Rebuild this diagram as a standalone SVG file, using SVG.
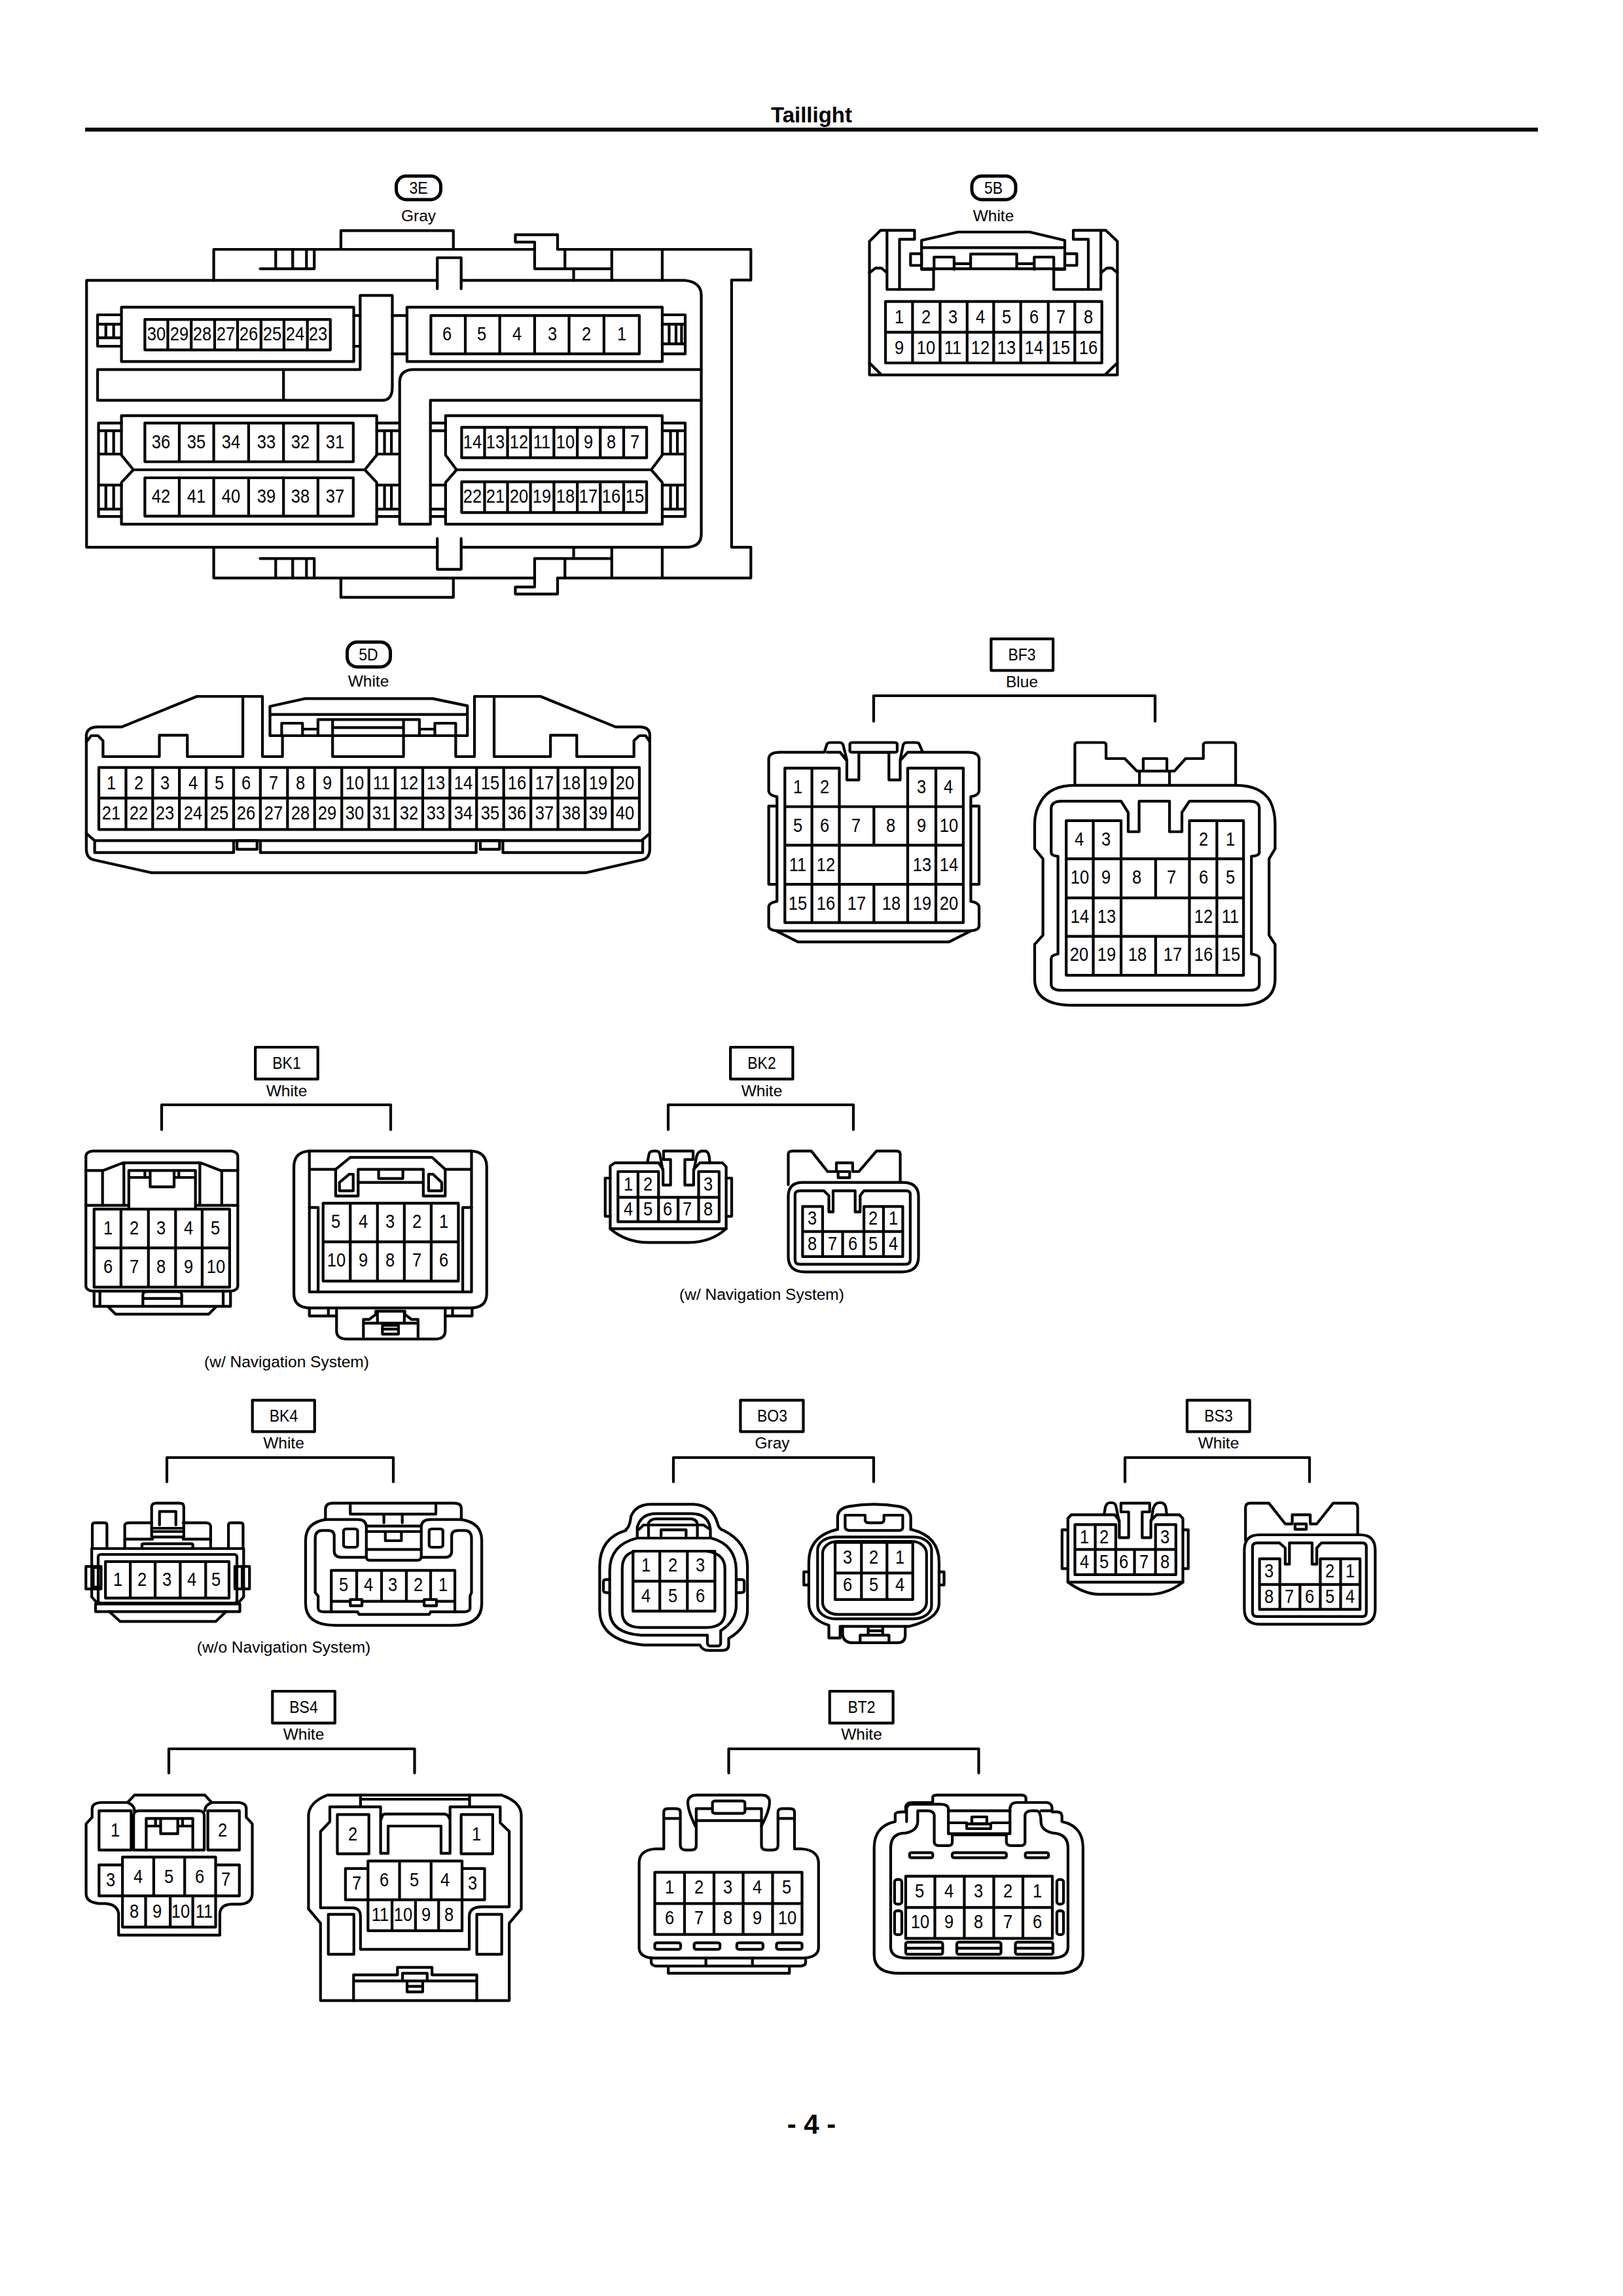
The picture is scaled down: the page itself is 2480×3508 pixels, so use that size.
<svg xmlns="http://www.w3.org/2000/svg" width="2480" height="3508" viewBox="0 0 2480 3508">
<style>
path,rect{fill:none;stroke:#000;stroke-width:4.2;stroke-linejoin:round;stroke-linecap:round;vector-effect:non-scaling-stroke}
.w{fill:#fff}
.p{stroke-width:5}
text{font-family:"Liberation Sans",Arial,sans-serif;font-size:30px;text-anchor:middle;fill:#000;transform-box:fill-box;transform-origin:center;transform:scaleX(.85)}
.l{font-size:24.5px;transform:none}
.t{font-size:25px;transform:scaleX(.92)}
.h{font-size:33px;font-weight:bold;transform:none}
.f{font-size:42px;font-weight:bold;transform:none}
</style>
<rect width="2480" height="3508" style="fill:#fff;stroke:none"/>
<g id="header">
<text class="h" x="1240" y="187">Taillight</text>
<path d="M130,198H2350" style="stroke-width:6;stroke-linecap:butt"/>
</g>
<g id="footer"><text class="f" x="1240" y="3260">- 4 -</text></g>

<g id="connectors">
<path d="M1335,1102V1063H1765V1102"/>
<path d="M247,1726V1688H597V1726"/>
<path d="M1021,1726V1688H1304V1726"/>
<path d="M255,2264V2227H601V2264"/>
<path d="M1029,2264V2227H1335V2264"/>
<path d="M1719,2264V2227H2001V2264"/>
<path d="M258,2709V2672H633.5V2709"/>
<path d="M1113.5,2709V2672H1495.5V2709"/>
</g>

<g id="node-3E">
<rect class="p" x="605.5" y="269" width="68" height="36" rx="15"/>
<g transform="translate(100,130) scale(.7015,.5102)">
<rect x="600" y="436" width="245" height="56"/>
<path d="M323,585V492H1022M1072,492H1493V584H1451V1384H1493V1476H1072M1022,1476H323V1384"/>
<path d="M1022,492V470H980V448H1072V492M1022,470V550H1188M1088,492V550M1190,492V585M1300,492V585M1107,550V585"/>
<path d="M424,550H542V495M458,492V550M495,492V550M525,492V550"/>
<path d="M46,585H1350Q1385,590 1385,630V1345Q1385,1384 1350,1384H46Z"/>
<path class="w" d="M810,610V517H862V610"/>
<path class="w" d="M810,1358V1450H862V1358"/>
<rect x="600" y="1476" width="245" height="58"/>
<path d="M1022,1476V1503H980V1524H1072V1476M1022,1503V1418H1188M1088,1418V1476M1190,1384V1476M1300,1384V1476M1107,1384V1418"/>
<path d="M424,1418H542V1476M458,1418V1476M495,1418V1476M525,1418V1476"/>
<rect x="122" y="665" width="506" height="163"/>
<path d="M173,702H577V793H173ZM223,702V793M274,702V793M325,702V793M375,702V793M426,702V793M476,702V793M527,702V793"/>
<path d="M120,688H70V782H120M70,716H120M70,757H120M88,716V757M105,716V757M628,690H642M628,782H642"/>
<path d="M642,852V630H712V905Q712,944 690,944H70V852H642M475,852V944"/>
<rect x="744" y="665" width="556" height="163"/>
<path d="M796,690H1250V805H796ZM871,690V805M946,690V805M1022,690V805M1097,690V805M1173,690V805"/>
<path d="M712,690H744M712,805H744M1300,688H1350V805H1300M1300,716H1350M1300,775H1350M1315,716V775M1330,716V775M1342,716V775"/>
<path d="M1385,852H755Q728,855 728,890V1315H795V944H1385"/>
<path d="M122,990H678V1108L652,1152L678,1190V1315H122V1190L148,1152L122,1108ZM148,1152H652"/>
<path d="M173,1012H627V1128H173ZM248,1012V1128M323,1012V1128M399,1012V1128M475,1012V1128M550,1012V1128"/>
<path d="M173,1176H627V1291H173ZM248,1176V1291M323,1176V1291M399,1176V1291M475,1176V1291M550,1176V1291"/>
<path d="M122,1012H72V1292H122M72,1035H122M72,1105H122M72,1198H122M72,1270H122M88,1035V1105M105,1035V1105M88,1198V1270M105,1198V1270"/>
<path d="M678,1012H724M678,1035H724M678,1105H724M678,1198H724M678,1270H724M678,1292H724M695,1035V1105M710,1035V1105M695,1198V1270M710,1198V1270"/>
<path d="M828,990H1300V1108L1276,1152L1300,1190V1315H828V1190L852,1152L828,1108ZM852,1152H1276"/>
<path d="M863,1025H1266V1116H863ZM913,1025V1116M963,1025V1116M1013,1025V1116M1064,1025V1116M1115,1025V1116M1165,1025V1116M1216,1025V1116"/>
<path d="M863,1188H1266V1280H863ZM913,1188V1280M963,1188V1280M1013,1188V1280M1064,1188V1280M1115,1188V1280M1165,1188V1280M1216,1188V1280"/>
<path d="M795,1012H828M795,1035H828M795,1198H828M795,1270H828M795,1292H828M1300,1012H1350V1292H1300M1300,1035H1350M1300,1105H1350M1300,1198H1350M1300,1270H1350M1318,1035V1105M1333,1035V1105M1318,1198V1270M1333,1198V1270"/>
</g>
<text class="t" x="639.5" y="296">3E</text>
<text class="l" x="639.5" y="338">Gray</text>
<text x="239" y="520">30</text><text x="274" y="520">29</text><text x="309" y="520">28</text><text x="345" y="520">27</text><text x="380" y="520">26</text><text x="416" y="520">25</text><text x="451" y="520">24</text><text x="486" y="520">23</text>
<text x="683" y="520">6</text><text x="736" y="520">5</text><text x="790" y="520">4</text><text x="844" y="520">3</text><text x="896" y="520">2</text><text x="950" y="520">1</text>
<text x="246" y="685">36</text><text x="300" y="685">35</text><text x="353" y="685">34</text><text x="407" y="685">33</text><text x="459" y="685">32</text><text x="512" y="685">31</text>
<text x="246" y="768">42</text><text x="300" y="768">41</text><text x="353" y="768">40</text><text x="407" y="768">39</text><text x="459" y="768">38</text><text x="512" y="768">37</text>
<text x="722" y="685">14</text><text x="757" y="685">13</text><text x="793" y="685">12</text><text x="828" y="685">11</text><text x="864" y="685">10</text><text x="899" y="685">9</text><text x="934" y="685">8</text><text x="970" y="685">7</text>
<text x="722" y="768">22</text><text x="757" y="768">21</text><text x="793" y="768">20</text><text x="828" y="768">19</text><text x="864" y="768">18</text><text x="899" y="768">17</text><text x="934" y="768">16</text><text x="970" y="768">15</text>
</g>

<g id="node-5B">
<rect class="p" x="1485" y="269" width="67" height="36" rx="15"/>
<g transform="translate(1200,130) scale(.7653,.5102)">
<path d="M168,868V468L190,435H258V462H228V612H296V552H272V465L345,440H488L558,465V552H536V612H605V462H575V435H640L663,468V868Z"/>
<path d="M203,440V612H228M630,440V612H605M168,562L180,548H192L203,562M630,562L642,548H652L663,562"/>
<path d="M272,487H558M272,550H558"/>
<rect x="250" y="505" width="22" height="35"/><rect x="558" y="505" width="24" height="35"/>
<path d="M297,552V515H337V552M370,548V506H462V548M497,552V515H536V552M337,535H370M462,535H497"/>
<path d="M200,648H632V832H200ZM200,740H632M254,648V832M309,648V832M363,648V832M416,648V832M470,648V832M525,648V832M578,648V832"/>
<path d="M168,832L190,865M663,832L640,865"/>
</g>
<text class="t" x="1518" y="296">5B</text>
<text class="l" x="1518" y="338">White</text>
<text x="1374" y="494">1</text><text x="1415" y="494">2</text><text x="1456" y="494">3</text><text x="1498" y="494">4</text><text x="1538" y="494">5</text><text x="1580" y="494">6</text><text x="1621" y="494">7</text><text x="1663" y="494">8</text>
<text x="1374" y="541">9</text><text x="1415" y="541">10</text><text x="1456" y="541">11</text><text x="1498" y="541">12</text><text x="1538" y="541">13</text><text x="1580" y="541">14</text><text x="1621" y="541">15</text><text x="1663" y="541">16</text>
</g>

<g id="node-5D">
<rect class="p" x="530.5" y="981" width="66" height="38" rx="15"/>
<g transform="translate(100,950) scale(.6378,.3333)">
<path d="M520,522V618H472V342H315L135,482H78Q52,482 50,520V1040Q50,1085 70,1092L205,1150H1248L1380,1092Q1400,1085 1400,1040V520Q1400,482 1375,482H1318L1138,342H980V618H935V522"/>
<path d="M50,550L62,522H78L90,545V618H225V520H292V618H425V345M1400,550L1390,522H1375L1362,545V618H1225V520H1162V618H1027V345"/>
<path d="M490,388L575,352H880L963,385V522H490ZM490,425H963M605,520V448H848V520M518,520V465H568V520M885,520V465H935V520M568,492H605M848,492H885M640,448V618H810V448M640,485H810"/>
<path d="M80,668H1375V952H80ZM80,808H1375M145,668V952M209,668V952M273,668V952M337,668V952M403,668V952M467,668V952M532,668V952M597,668V952M662,668V952M727,668V952M790,668V952M856,668V952M921,668V952M985,668V952M1050,668V952M1115,668V952M1180,668V952M1245,668V952M1310,668V952"/>
<path d="M50,970L70,1003H1380L1400,970M70,1003V1058H403V1003M467,1003V1058H984V1003M1048,1003V1058H1383V1003"/>
<rect x="411" y="1003" width="48" height="40"/><rect x="994" y="1003" width="46" height="40"/>
</g>
<text class="t" x="563" y="1009">5D</text>
<text class="l" x="563" y="1049">White</text>
<text x="170" y="1206">1</text><text x="212" y="1206">2</text><text x="252" y="1206">3</text><text x="295" y="1206">4</text><text x="335" y="1206">5</text><text x="376" y="1206">6</text><text x="418" y="1206">7</text><text x="459" y="1206">8</text><text x="500" y="1206">9</text><text x="542" y="1206">10</text><text x="583" y="1206">11</text><text x="625" y="1206">12</text><text x="666" y="1206">13</text><text x="708" y="1206">14</text><text x="749" y="1206">15</text><text x="790" y="1206">16</text><text x="832" y="1206">17</text><text x="873" y="1206">18</text><text x="914" y="1206">19</text><text x="955" y="1206">20</text>
<text x="170" y="1252">21</text><text x="212" y="1252">22</text><text x="252" y="1252">23</text><text x="295" y="1252">24</text><text x="335" y="1252">25</text><text x="376" y="1252">26</text><text x="418" y="1252">27</text><text x="459" y="1252">28</text><text x="500" y="1252">29</text><text x="542" y="1252">30</text><text x="583" y="1252">31</text><text x="625" y="1252">32</text><text x="666" y="1252">33</text><text x="708" y="1252">34</text><text x="749" y="1252">35</text><text x="790" y="1252">36</text><text x="832" y="1252">37</text><text x="873" y="1252">38</text><text x="914" y="1252">39</text><text x="955" y="1252">40</text>
</g>

<g id="node-BF3">
<g transform="translate(1100,960) scale(.574,.3827)">
<rect x="722" y="42" width="165" height="126"/>
<path d="M278,495H160Q132,495 130,520V650Q132,668 152,672V1090Q132,1095 130,1110V1190Q132,1208 160,1208H660Q688,1208 690,1190V1110Q688,1095 668,1090V672Q688,668 690,650V520Q688,495 660,495H540L530,460Q528,456 520,456H498Q490,456 488,465L480,525V605H450V495H370V605H338V525L328,465Q326,456 318,456H295Q288,456 285,462Z"/>
<rect class="w" x="346" y="456" width="126" height="39" rx="6"/>
<path d="M285,495H320L336,525M538,495H500L482,525M152,710H130V1022H152M668,710H690V1022H668M150,1208L208,1252H610L668,1208"/>
<path d="M173,712V558H318V712M500,712V558H648V1175H173V712H648M173,866H648M173,1022H648M245,558V1175M575,558V1175M318,558V1175M500,558V1175M410,712V866M410,1022V1175"/>
<path d="M945,625V465Q945,456 955,456H1020Q1028,456 1028,465V520H1078L1110,570H1210L1240,520H1287V465Q1287,456 1297,456H1365Q1373,456 1373,465V625M1127,570V520H1190V570M1117,570V625M1197,570V625"/>
<path d="M945,627H1373Q1440,627 1465,690Q1478,730 1478,780V880L1462,920V1225L1478,1262V1400Q1478,1505 1380,1505H940Q838,1505 838,1400V1262L860,1225V920L838,880V780Q838,730 855,690Q880,627 945,627Z"/>
<path d="M882,720Q882,690 910,690H1068L1087,735V812H1116V690H1197V812H1230V735L1250,690H1410Q1436,690 1436,720V895Q1436,908 1415,910V1300Q1436,1305 1436,1318V1420Q1436,1445 1410,1445H910Q882,1445 882,1420V1318Q882,1305 900,1300V910Q882,908 882,895Z"/>
<path d="M922,920V768H1068V920M1250,920V768H1394V1385H922V920H1394M922,1076H1394M922,1230H1394M994,768V1385M1323,768V1385M1068,768V1385M1250,768V1385M1160,920V1076M1160,1230V1385"/>
</g>
<text class="t" x="1561.5" y="1009">BF3</text>
<text class="l" x="1561.5" y="1050">Blue</text>
<text x="1219" y="1212">1</text><text x="1260" y="1212">2</text><text x="1408" y="1212">3</text><text x="1449" y="1212">4</text>
<text x="1219" y="1271">5</text><text x="1260" y="1271">6</text><text x="1308" y="1271">7</text><text x="1361" y="1271">8</text><text x="1408" y="1271">9</text><text x="1450" y="1271">10</text>
<text x="1219" y="1331">11</text><text x="1262" y="1331">12</text><text x="1409" y="1331">13</text><text x="1450" y="1331">14</text>
<text x="1219" y="1390">15</text><text x="1262" y="1390">16</text><text x="1309" y="1390">17</text><text x="1362" y="1390">18</text><text x="1409" y="1390">19</text><text x="1450" y="1390">20</text>
<text x="1649" y="1292">4</text><text x="1690" y="1292">3</text><text x="1839" y="1292">2</text><text x="1880" y="1292">1</text>
<text x="1650" y="1350">10</text><text x="1690" y="1350">9</text><text x="1737" y="1350">8</text><text x="1790" y="1350">7</text><text x="1839" y="1350">6</text><text x="1880" y="1350">5</text>
<text x="1650" y="1410">14</text><text x="1691" y="1410">13</text><text x="1839" y="1410">12</text><text x="1880" y="1410">11</text>
<text x="1649" y="1468">20</text><text x="1691" y="1468">19</text><text x="1738" y="1468">18</text><text x="1792" y="1468">17</text><text x="1839" y="1468">16</text><text x="1881" y="1468">15</text>
</g>

<g id="node-BK1">
<g transform="translate(100,1590) scale(.4464,.3333)">
<rect x="650" y="30" width="214" height="146"/>
<rect x="70" y="506" width="520" height="642" rx="24" ry="24"/>
<path d="M70,595H130L197,560H463L530,595H590M70,755H215M445,755H590M127,595V755M535,595V755M200,560V755M460,560V755M217,770V595H445V770M217,627H290M372,627H445M272,597V627M290,597V670H372V597M388,597V627"/>
<path d="M98,772H562V1130H98ZM98,950H562M190,772V1130M284,772V1130M377,772V1130M468,772V1130"/>
<path d="M98,1148V1218H565V1148M118,1148V1218M540,1148V1218M265,1218V1165Q265,1150 280,1150H385Q398,1150 398,1165V1218M265,1182H398M145,1218L172,1254H490L517,1218"/>
<path d="M1390,506Q1442,510 1442,580V1160Q1442,1225 1385,1225H840Q782,1225 782,1160V580Q782,510 835,506Z"/>
<path d="M835,506V1152H1390V506M835,590H925M1300,590H1390"/>
<path d="M925,590L975,535H1255L1300,590V712H1225V650H1002V712H925ZM1002,650V590H1225V650M1072,590V632H1155V590"/>
<path d="M938,650L972,612H985V688H938ZM1243,612H1258L1288,650V688H1243Z"/>
<path d="M882,745H1345V1102H882ZM882,922H1345M975,745V1102M1068,745V1102M1160,745V1102M1252,745V1102"/>
<path d="M835,765H865V1152M1390,765H1360V1152"/>
<path d="M835,1225V1262H925M900,1225V1262M1300,1262H1392V1225M1325,1225V1262"/>
<path d="M928,1225V1330Q928,1368 965,1368H1265Q1300,1368 1300,1330V1225"/>
<path d="M1020,1360V1278H1040L1062,1255V1240H1162V1255L1185,1278H1207V1360M1020,1295H1207M1068,1240V1295M1160,1240V1295M1085,1322H1140"/>
<rect x="1085" y="1305" width="55" height="40"/>
</g>
<text class="t" x="438" y="1633">BK1</text>
<text class="l" x="438" y="1675">White</text>
<text class="l" x="438" y="2089">(w/ Navigation System)</text>
<text x="165" y="1886">1</text><text x="205" y="1886">2</text><text x="246" y="1886">3</text><text x="288" y="1886">4</text><text x="329" y="1886">5</text>
<text x="165" y="1945">6</text><text x="205" y="1945">7</text><text x="246" y="1945">8</text><text x="288" y="1945">9</text><text x="330" y="1945">10</text>
<text x="513" y="1876">5</text><text x="555" y="1876">4</text><text x="596" y="1876">3</text><text x="637" y="1876">2</text><text x="678" y="1876">1</text>
<text x="514" y="1935">10</text><text x="555" y="1935">9</text><text x="596" y="1935">8</text><text x="637" y="1935">7</text><text x="678" y="1935">6</text>
</g>

<g id="node-BK2">
<g transform="translate(880,1590) scale(.3827,.3333)">
<rect x="617" y="30" width="249" height="146"/>
<path d="M137,575L155,560H285L292,520Q295,506 310,506H320Q332,506 335,520L348,600V662H378V545H350V506H468V545H435V662H470V600L482,530Q488,506 505,506H515Q528,506 532,530L535,560H585L600,578V862H137Z"/>
<path d="M168,718V600H330V718M490,718V600H572V830H168V718H572M248,600V830M330,600V830M408,718V830M490,600V830"/>
<path d="M285,560H330L348,590M535,560H495L470,590M137,862Q200,925 290,925H450Q540,925 600,862M137,630H117V805H137M600,630H622V805H600"/>
<path d="M848,660V520Q848,506 865,506H940L1005,600H1040V560H1105V600H1130L1200,506H1280Q1295,506 1295,520V645"/>
<rect x="1047" y="600" width="46" height="28"/>
<path d="M905,650H1305Q1368,650 1368,715V990Q1368,1060 1300,1060H915Q848,1060 848,990V715Q848,650 905,650Z"/>
<path d="M895,688H990L1010,710V785H1027V688H1115V785H1135V710L1150,688H1320Q1335,688 1335,705V1005Q1335,1025 1315,1025H895Q875,1025 875,1005V705Q875,688 895,688Z"/>
<path d="M905,875V760H985V875M1150,875V760H1305V990H905V875H1305M1228,760V990M985,875V990M1065,875V990M1150,760V990"/>
</g>
<text class="t" x="1164" y="1633">BK2</text>
<text class="l" x="1164" y="1675">White</text>
<text class="l" x="1164" y="1986">(w/ Navigation System)</text>
<text x="960" y="1819">1</text><text x="990" y="1819">2</text><text x="1082" y="1819">3</text>
<text x="960" y="1857">4</text><text x="990" y="1857">5</text><text x="1020" y="1857">6</text><text x="1050" y="1857">7</text><text x="1082" y="1857">8</text>
<text x="1241" y="1871">3</text><text x="1334" y="1871">2</text><text x="1365" y="1871">1</text>
<text x="1241" y="1910">8</text><text x="1272" y="1910">7</text><text x="1303" y="1910">6</text><text x="1334" y="1910">5</text><text x="1365" y="1910">4</text>
</g>

<g id="node-BK4">
<g transform="translate(100,2130) scale(.4464,.3333)">
<rect x="640" y="28" width="213" height="144"/>
<path d="M92,705V600Q92,590 102,590H132Q142,590 142,600V705M558,705V600Q558,590 568,590H598Q608,590 608,600V705M203,705V600Q205,590 220,590H295M403,590H480Q495,590 497,605V705"/>
<path d="M295,655V515Q297,500 310,500H390Q405,500 405,515V655M322,600V538H378V600M298,615H403M298,630H403M298,655H403M203,665H298M403,665H497M262,703V690Q262,686 270,686H430Q436,686 436,692V703"/>
<path d="M90,930V708H610V930L590,960M90,930L110,960"/>
<rect x="112" y="735" width="475" height="223" rx="10" ry="10"/>
<path d="M137,768H560V935H137ZM222,768V935M307,768V935M393,768V935M480,768V935"/>
<rect x="103" y="962" width="494" height="35"/>
<path d="M122,790H70V893H122M95,795V885M122,795H95M122,885H95M122,790V893M580,790H630V893H580ZM605,795V885"/>
<path d="M150,997L187,1042H515L550,997"/>
<path d="M890,575V525Q892,500 915,500H1330Q1355,500 1355,525V575M975,510V550H1268V510M1090,550V590M1153,550V590"/>
<path d="M890,575Q822,590 822,670V960Q822,1060 925,1060H1325Q1425,1060 1425,960V670Q1425,590 1355,575H1250Q1218,575 1218,610V745Q1218,760 1205,762H1040Q1030,760 1030,745V610Q1030,575 1000,575Z"/>
<path d="M855,910V660Q855,625 880,625H900Q920,625 920,650V720Q920,748 945,748H1030M1218,748H1300Q1322,748 1322,720V650Q1322,625 1345,625H1365Q1390,625 1390,660V910L1385,925V980Q1385,998 1360,998H1250L1245,1010H1005L1000,998H885Q865,998 865,980V925L855,910"/>
<rect x="952" y="618" width="48" height="84" rx="10" ry="8"/><rect x="1245" y="618" width="47" height="84" rx="10" ry="8"/>
<path d="M1030,605H1218M1030,630H1218M1030,712H1218M1095,630V672H1150V630"/>
<path d="M910,998V808H1333V998M910,950H1333M997,808V950M1082,808V950M1167,808V950M1250,808V950"/>
<rect class="w" x="975" y="942" width="40" height="28"/><rect class="w" x="1228" y="942" width="42" height="28"/>
</g>
<text class="t" x="433.5" y="2172">BK4</text>
<text class="l" x="433.5" y="2213">White</text>
<text class="l" x="433.5" y="2525">(w/o Navigation System)</text>
<text x="180" y="2423">1</text><text x="217" y="2423">2</text><text x="255" y="2423">3</text><text x="293" y="2423">4</text><text x="330" y="2423">5</text>
<text x="525" y="2431">5</text><text x="563" y="2431">4</text><text x="600" y="2431">3</text><text x="639" y="2431">2</text><text x="677" y="2431">1</text>
</g>

<g id="node-BO3">
<g transform="translate(880,2130) scale(.3827,.3333)">
<rect x="657" y="28" width="251" height="144"/>
<path d="M200,620Q215,610 220,560Q240,505 300,505H470Q545,510 565,590Q570,620 590,625Q685,680 685,790V990Q685,1070 610,1120V1150Q610,1175 585,1175H530Q505,1175 495,1150H270Q95,1130 95,990V790Q95,660 200,625Z"/>
<path d="M245,655V610Q260,548 320,548H460Q530,548 537,620V658M290,655V590Q300,572 320,572H460Q485,575 485,600V655M252,620L270,600H510L535,620M340,650V622H440V650"/>
<path d="M245,660Q135,690 135,810V990Q135,1095 260,1105H525V1140Q525,1155 540,1155H565Q578,1155 578,1140V1085Q640,1040 640,970V810Q640,690 540,660Z"/>
<path d="M240,720H520Q595,730 595,800V1000Q595,1070 520,1070H260Q185,1070 185,1000V800Q185,730 240,720Z"/>
<path d="M228,720H555V995H228ZM228,858H555M335,720V995M445,720V995"/>
<path d="M135,850H122Q110,850 110,860V900Q110,910 122,910H135M640,850H660Q672,850 672,860V900Q672,910 660,910H640"/>
<path d="M1045,620V565Q1045,525 1090,515Q1190,495 1290,515Q1335,525 1337,565V620"/>
<path d="M1075,555H1155V580Q1157,590 1170,590H1215Q1230,590 1230,575V555H1305V610Q1305,622 1295,625H1090Q1075,622 1075,610Z"/>
<path d="M1045,620Q930,650 930,770V960Q930,1030 1010,1060V1118H1055V1065H1330Q1450,1030 1450,960V770Q1450,650 1337,620"/>
<rect x="965" y="655" width="455" height="375" rx="70" ry="60"/>
<rect x="985" y="675" width="415" height="335" rx="60" ry="55"/>
<path d="M1035,680H1345V942H1035ZM1035,820H1345M1140,680V942M1242,680V942"/>
<path d="M930,815H910V875H930M1450,815H1470V875H1450"/>
<path d="M1065,1065V1105Q1070,1140 1105,1140H1285Q1315,1140 1315,1105V1065M1135,1140V1105H1250V1140M1167,1072V1105M1225,1072V1105M1167,1085H1225"/>
</g>
<text class="t" x="1180" y="2172">BO3</text>
<text class="l" x="1180" y="2213">Gray</text>
<text x="987" y="2401">1</text><text x="1028" y="2401">2</text><text x="1070" y="2401">3</text>
<text x="987" y="2448">4</text><text x="1028" y="2448">5</text><text x="1070" y="2448">6</text>
<text x="1295" y="2389">3</text><text x="1335" y="2389">2</text><text x="1375" y="2389">1</text>
<text x="1295" y="2431">6</text><text x="1335" y="2431">5</text><text x="1375" y="2431">4</text>
</g>

<g id="node-BS3">
<g transform="translate(1580,2130) scale(.3571,.3333)">
<rect x="655" y="28" width="268" height="144"/>
<path d="M145,570L160,553H300L305,520Q310,498 325,498H335Q350,500 352,520L365,590V658H405V540H372V500H495V540H463V658H500V590L510,525Q518,498 535,498H545Q562,500 565,525L568,553H622L637,570V862H145Z"/>
<path d="M175,712V598H350V712M520,712V598H607V828H175V712H607M262,598V828M350,598V828M430,712V828M520,598V828"/>
<path d="M300,553H345L365,580M568,553H525L500,580M145,862Q215,918 280,918H490Q570,918 637,862M145,622H120V800H145M637,622H660V800H637"/>
<path d="M905,670V520Q905,500 925,500H1005L1075,595H1105V553H1182V595H1210L1280,500H1365Q1385,500 1385,520V640"/>
<rect x="1117" y="595" width="48" height="25"/>
<path d="M965,645H1395Q1460,645 1460,715V985Q1460,1055 1395,1055H965Q900,1055 900,985V715Q900,645 965,645Z"/>
<path d="M955,682H1050L1075,705V780H1093V682H1190V780H1210V705L1230,682H1405Q1422,682 1422,700V1000Q1422,1020 1405,1020H955Q935,1020 935,1000V700Q935,682 955,682Z"/>
<path d="M965,873V755H1052V873M1225,873V755H1395V987H965V873H1395M1312,755V987M1052,873V987M1138,873V987M1225,755V987"/>
</g>
<text class="t" x="1862" y="2172">BS3</text>
<text class="l" x="1862" y="2213">White</text>
<text x="1657" y="2358">1</text><text x="1687" y="2358">2</text><text x="1780" y="2358">3</text>
<text x="1657" y="2396">4</text><text x="1687" y="2396">5</text><text x="1717" y="2396">6</text><text x="1748" y="2396">7</text><text x="1780" y="2396">8</text>
<text x="1939" y="2410">3</text><text x="2032" y="2410">2</text><text x="2063" y="2410">1</text>
<text x="1939" y="2449">8</text><text x="1970" y="2449">7</text><text x="2001" y="2449">6</text><text x="2032" y="2449">5</text><text x="2063" y="2449">4</text>
</g>

<g id="node-BS4">
<g transform="translate(110,2570) scale(.4592,.3333)">
<rect x="667" y="42" width="208" height="146"/>
<path d="M185,552L208,518H442L465,552H555Q580,555 580,580V620L600,650V970Q598,1018 555,1018H530Q495,1020 492,1060V1160H155V1060Q150,1018 110,1015H90Q47,1010 47,970V650L67,620V580Q67,555 95,552Z"/>
<path d="M185,552Q208,565 208,590M465,552Q442,565 442,590M205,770V610Q205,590 225,590H420Q440,590 440,610V770Z"/>
<rect x="90" y="590" width="107" height="180"/><rect x="452" y="590" width="105" height="180"/>
<path d="M247,770V625H402V770M247,660H295M352,660H402M278,625V660M295,625V695H352V625M368,625V660"/>
<path d="M168,838H90V980H168M168,980V802H478V838H557V980H168M272,802V980M375,802V980M478,838V980M168,980V1123H478V980M245,980V1123M327,980V1123M402,980V1123"/>
<path d="M850,518H1430Q1495,550 1495,610V1040L1455,1105V1460H827V1105L787,1040V610Q790,550 850,518Z"/>
<path d="M960,518V570M1323,518V570M960,537H1323"/>
<path d="M827,1035V685L858,640V572H1027V785H1052V660H1228V785H1258V572H1425V645L1455,685V1030H1365Q1322,1030 1322,1075V1225H960V1075Q960,1030 925,1035Z"/>
<path d="M1030,625Q1032,608 1040,605H1240Q1255,610 1255,625"/>
<rect x="883" y="607" width="105" height="180"/><rect x="1295" y="607" width="105" height="180"/>
<path d="M985,855H910V998H985M985,998V820H1298V855H1373V998H985M1090,820V998M1195,820V998M1298,820V998M985,998V1140H1298V998M1065,998V1140M1143,998V1140M1220,998V1140"/>
<rect x="853" y="1065" width="85" height="183"/><rect x="1347" y="1065" width="83" height="183"/>
<path d="M937,1460V1342H1083V1308H1198V1342H1347V1460M937,1370H1347M1100,1370V1335H1182V1370M1115,1370V1420H1167V1370M1115,1395H1167"/>
</g>
<text class="t" x="464" y="2617">BS4</text>
<text class="l" x="464" y="2658">White</text>
<text x="176" y="2806">1</text><text x="340" y="2806">2</text>
<text x="169" y="2882">3</text><text x="211" y="2877">4</text><text x="258" y="2877">5</text><text x="305" y="2877">6</text><text x="345" y="2881">7</text>
<text x="205" y="2930">8</text><text x="240" y="2930">9</text><text x="276" y="2930">10</text><text x="312" y="2930">11</text>
<text x="539" y="2812">2</text><text x="728" y="2812">1</text>
<text x="545" y="2887">7</text><text x="587" y="2882">6</text><text x="633" y="2882">5</text><text x="680" y="2882">4</text><text x="722" y="2887">3</text>
<text x="581" y="2935">11</text><text x="616" y="2935">10</text><text x="651" y="2935">9</text><text x="686" y="2935">8</text>
</g>

<g id="node-BT2">
<g transform="translate(950,2570) scale(.4592,.3333)">
<rect x="692" y="42" width="211" height="146"/>
<path d="M140,765V595Q140,580 155,580H180Q195,580 195,595V750Q197,770 215,770H230Q248,770 248,750V635H465V750Q465,770 485,770H500Q520,770 520,750V595Q520,580 535,580H560Q575,580 575,595V765H600Q652,770 655,825V1220Q652,1265 600,1265H110Q60,1265 58,1220V825Q60,770 110,765Z"/>
<path d="M143,625H195M520,625H572M245,660Q220,590 220,550Q222,518 250,518H465Q492,518 492,550Q492,590 465,660M248,635V580H300M412,580H465V635"/>
<rect x="302" y="545" width="108" height="57" rx="10" ry="8"/>
<path d="M110,872H600V1157H110ZM110,1015H600M209,872V1157M307,872V1157M404,872V1157M502,872V1157"/>
<rect x="110" y="1195" width="86" height="30" rx="8"/><rect x="241" y="1195" width="86" height="30" rx="8"/><rect x="383" y="1195" width="87" height="30" rx="8"/><rect x="515" y="1195" width="85" height="30" rx="8"/>
<path d="M98,1265V1285Q100,1302 120,1302H590Q612,1302 612,1285V1265M280,1265V1302M435,1265V1302M155,1302V1335H558V1302"/>
<path d="M910,640V605Q912,595 935,595H945V570Q948,552 965,552H1035V525Q1038,518 1050,518H1330Q1342,518 1345,530V552H1415Q1430,555 1432,575V595H1450Q1465,597 1465,615V640Q1535,660 1535,760V1250Q1535,1335 1450,1335H925Q840,1335 840,1250V760Q840,660 910,640Z"/>
<path d="M895,760Q895,692 945,692Q985,680 985,640V590H1020Q1038,592 1040,610V735Q1042,750 1055,750H1085Q1100,750 1100,735V700H1280V735Q1282,750 1295,750H1325Q1342,750 1342,735V610Q1344,592 1362,590H1380Q1395,592 1395,640Q1395,680 1435,692Q1485,695 1485,760V1215Q1485,1265 1430,1265H950Q895,1265 895,1215Z"/>
<path d="M948,640V580Q950,560 965,560H1060Q1085,560 1087,580V695H1292V580Q1294,552 1315,552H1400M1395,590H1432"/>
<path d="M1087,590H1292M1087,645H1148M1232,645H1292"/>
<rect x="1148" y="650" width="80" height="22"/><rect x="1165" y="618" width="50" height="32"/>
<rect x="958" y="782" width="77" height="23" rx="6"/><rect x="1100" y="782" width="180" height="23" rx="6"/><rect x="1343" y="782" width="77" height="23" rx="6"/>
<path d="M945,890H1433V1175H945ZM945,1033H1433M1042,890V1175M1140,890V1175M1238,890V1175M1335,890V1175"/>
<rect x="908" y="905" width="24" height="113" rx="10"/><rect x="908" y="1048" width="24" height="110" rx="10"/><rect x="1448" y="905" width="22" height="113" rx="10"/><rect x="1448" y="1048" width="22" height="110" rx="10"/>
<rect x="945" y="1192" width="123" height="56" rx="8"/><rect x="1115" y="1192" width="147" height="56" rx="8"/><rect x="1310" y="1192" width="125" height="56" rx="8"/>
<path d="M945,1220H1068M1115,1220H1262M1310,1220H1435"/>
</g>
<text class="t" x="1316.5" y="2617">BT2</text>
<text class="l" x="1316.5" y="2658">White</text>
<text x="1023" y="2893">1</text><text x="1068" y="2893">2</text><text x="1112" y="2893">3</text><text x="1157" y="2893">4</text><text x="1202" y="2893">5</text>
<text x="1023" y="2940">6</text><text x="1068" y="2940">7</text><text x="1112" y="2940">8</text><text x="1157" y="2940">9</text><text x="1203" y="2940">10</text>
<text x="1405" y="2899">5</text><text x="1450" y="2899">4</text><text x="1495" y="2899">3</text><text x="1540" y="2899">2</text><text x="1585" y="2899">1</text>
<text x="1406" y="2946">10</text><text x="1450" y="2946">9</text><text x="1495" y="2946">8</text><text x="1540" y="2946">7</text><text x="1585" y="2946">6</text>
</g>
</svg>
